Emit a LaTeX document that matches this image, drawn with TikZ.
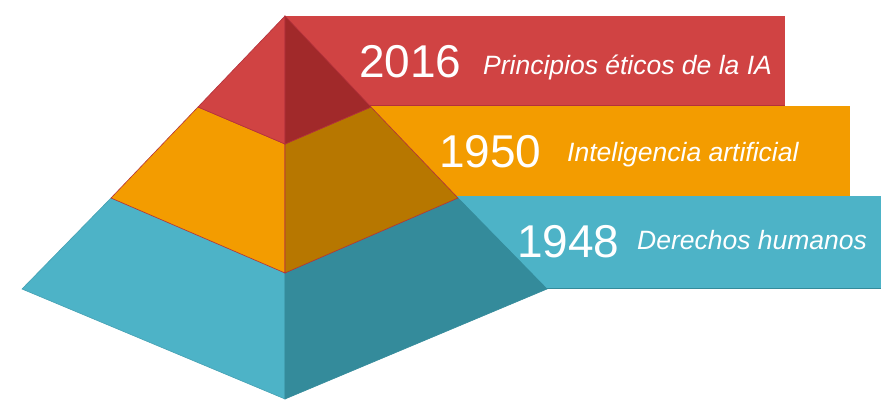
\documentclass[tikz,border=0pt]{standalone}
\usepackage{fontspec}
\setmainfont{Liberation Sans}
\definecolor{redL}{HTML}{D04343}
\definecolor{redD}{HTML}{A1292A}
\definecolor{redE}{HTML}{B3313C}
\definecolor{orgL}{HTML}{F39C00}
\definecolor{orgD}{HTML}{B77700}
\definecolor{bluL}{HTML}{4DB3C7}
\definecolor{bluD}{HTML}{348B9B}
\begin{document}
\begin{tikzpicture}[x=1pt,y=-1pt,
  edge/.style={line width=0.6pt,line join=miter},
  year/.style={anchor=base west,inner sep=0pt,text=white,font=\fontsize{46}{46}\selectfont},
  label/.style={anchor=base west,inner sep=0pt,text=white,font=\fontsize{26.5}{26.5}\selectfont\itshape}]
\useasboundingbox (0,0) rectangle (881,399);

% banners behind the pyramid
\fill[redL] (285,16) rectangle (785,105);
\draw[redE,line width=0.5pt] (285,105) -- (785,105);
\fill[orgL] (285,106) rectangle (850,196);
\fill[bluL] (285,196) rectangle (881,288);
\draw[bluD,line width=0.5pt] (285,288.5) -- (881,288.5);

% key points of the pyramid
\coordinate (apex) at (285,16);
\coordinate (rl) at (198,107);
\coordinate (rc) at (285,144);
\coordinate (rr) at (371,107);
\coordinate (ol) at (111,198);
\coordinate (oc) at (285,273);
\coordinate (or) at (458,198);
\coordinate (bl) at (22,289);
\coordinate (bc) at (285,399);
\coordinate (br) at (547,289);

% bottom tier
\filldraw[bluL,draw=bluL!90!black,edge] (ol) -- (bl) -- (bc) -- (oc) -- cycle;
\filldraw[bluD,draw=bluD,edge] (oc) -- (bc) -- (br) -- (or) -- cycle;
% middle tier
\filldraw[orgL,draw=redE,edge] (rl) -- (ol) -- (oc) -- (rc) -- cycle;
\filldraw[orgD,draw=redE,edge] (rc) -- (oc) -- (or) -- (rr) -- cycle;
% top tier
\filldraw[redL,draw=redE,edge] (apex) -- (rl) -- (rc) -- cycle;
\filldraw[redD,draw=redE,edge] (apex) -- (rc) -- (rr) -- cycle;

% labels
\node[year]  (y2016) at (359,77)  {2016};
\node[label] (t2016) at (483,74)  {Principios éticos de la IA};
\node[year]  (y1950) at (439,167) {1950};
\node[label] (t1950) at (567,161) {Inteligencia artificial};
\node[year]  (y1948) at (517,257) {1948};
\node[label] (t1948) at (637,249) {Derechos humanos};
\end{tikzpicture}
\end{document}
